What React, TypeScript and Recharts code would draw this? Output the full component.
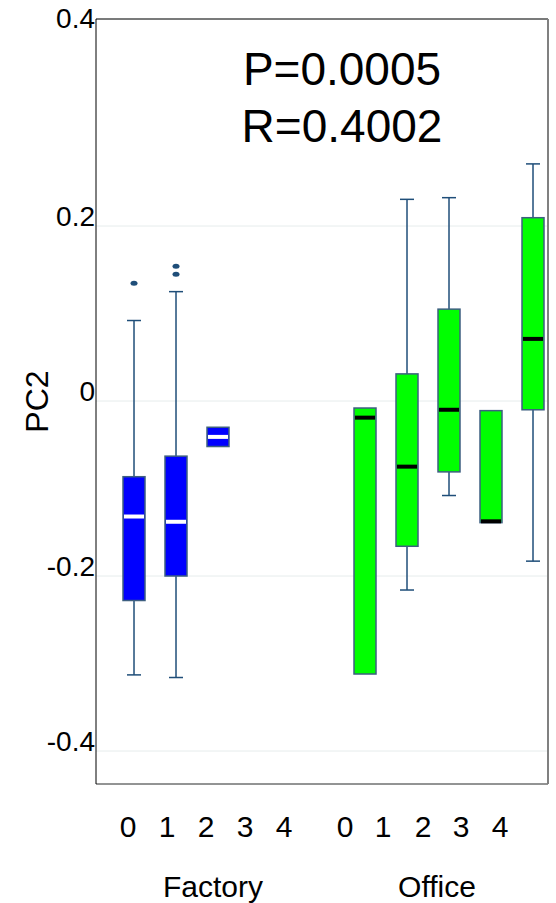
import React from 'react'
import { ComposedChart, Bar, Scatter, XAxis, YAxis, CartesianGrid } from 'recharts'

// categories
const groupNames = ['Factory', 'Factory', 'Factory', 'Factory', 'Factory', 'Office', 'Office', 'Office', 'Office', 'Office']
const levels = ['0', '1', '2', '3', '4', '0', '1', '2', '3', '4']
const slots = [0, 1, 2, 3, 4, 5.5, 6.5, 7.5, 8.5, 9.5]

// box statistics (PC2)
const whiskerLow = [-0.313, -0.316, null, null, null, null, -0.216, -0.108, null, -0.183]
const q1 = [-0.228, -0.2, -0.052, null, null, -0.312, -0.166, -0.081, -0.139, -0.01]
const median = [-0.132, -0.138, -0.041, null, null, -0.019, -0.075, -0.01, -0.1375, 0.071]
const q3 = [-0.0865, -0.063, -0.03, null, null, -0.008, 0.031, 0.105, -0.011, 0.2095]
const whiskerHigh = [0.092, 0.125, null, null, null, null, 0.2305, 0.2324, null, 0.271]

// outliers
const outlierSlots = [0, 1, 1]
const outlierValues = [0.1345, 0.154, 0.145]

// axes
const yDomain = [-0.4377, 0.4366]
const yTickValues = [0.4366, 0.2, 0, -0.2, -0.4]
const yTickLabels = ['0.4', '0.2', '0', '-0.2', '-0.4']
const xDomain = [-0.905, 9.857]
const xTickValues = [-0.143, 0.786, 1.714, 2.643, 3.571, 5.024, 5.929, 6.881, 7.786, 8.714]
const groupTickValues = [1.881, 7.214]
const groupTickLabels = ['Factory', 'Office']

const statLines = ['P=0.0005', 'R=0.4002']

const FONT = '"Liberation Sans", Arial, sans-serif'

const groupStyle: Record<string, { fill: string; median: string }> = {
  Factory: { fill: '#0000ff', median: '#ffffff' },
  Office: { fill: '#00ff00', median: '#000000' },
}

const rows = slots.map((slot, i) => {
  const lo = whiskerLow[i] ?? q1[i]
  const hi = whiskerHigh[i] ?? q3[i]
  return {
    slot,
    group: groupNames[i],
    q1: q1[i],
    median: median[i],
    q3: q3[i],
    wLow: whiskerLow[i],
    wHigh: whiskerHigh[i],
    lo,
    hi,
    range: lo == null || hi == null ? null : [lo, hi],
  }
})

const outliers = outlierSlots.map((slot, i) => ({ slot, value: outlierValues[i] }))

function BoxShape(props: any) {
  const { x, y, width, height, payload } = props
  if (!payload || payload.q1 == null || payload.range == null) return <g />
  const top = Math.min(y, y + height)
  const h = Math.abs(height)
  const toPx = (v: number) => top + (h * (payload.hi - v)) / (payload.hi - payload.lo)
  const cx = x + width / 2
  const style = groupStyle[payload.group]
  const boxTop = toPx(payload.q3)
  const boxBottom = toPx(payload.q1)
  const whisker = '#1f4e79'
  return (
    <g>
      {payload.wHigh != null && (
        <g stroke={whisker} strokeWidth={1.5}>
          <line x1={cx} x2={cx} y1={toPx(payload.wHigh)} y2={boxTop} />
          <line x1={cx - 7} x2={cx + 7} y1={toPx(payload.wHigh)} y2={toPx(payload.wHigh)} />
        </g>
      )}
      {payload.wLow != null && (
        <g stroke={whisker} strokeWidth={1.5}>
          <line x1={cx} x2={cx} y1={boxBottom} y2={toPx(payload.wLow)} />
          <line x1={cx - 7} x2={cx + 7} y1={toPx(payload.wLow)} y2={toPx(payload.wLow)} />
        </g>
      )}
      <rect
        x={x}
        y={boxTop}
        width={width}
        height={boxBottom - boxTop}
        fill={style.fill}
        stroke="#3d5f80"
        strokeWidth={1.5}
      />
      <line
        x1={x + 1}
        x2={x + width - 1}
        y1={toPx(payload.median)}
        y2={toPx(payload.median)}
        stroke={style.median}
        strokeWidth={4}
      />
    </g>
  )
}

function OutlierDot(props: any) {
  const { cx, cy } = props
  return <ellipse cx={cx} cy={cy} rx={3.5} ry={2.5} fill="#1f4e79" />
}

function YTick(props: any) {
  const { x, y, payload } = props
  const i = yTickValues.indexOf(payload.value)
  return (
    <text x={x} y={y + (i === 0 ? 9 : 0)} textAnchor="end" fontSize={28} fontFamily={FONT} fill="#000">
      {yTickLabels[i]}
    </text>
  )
}

export default function App() {
  return (
    <div style={{ position: 'absolute', left: 0, top: 0, width: 556, height: 903, background: '#fff' }}>
      <ComposedChart
        width={556}
        height={903}
        data={rows}
        margin={{ top: 18, right: 7, bottom: 0, left: 0 }}
      >
        <CartesianGrid xAxisId="a_lvl" yAxisId="v" vertical={false} stroke="#e6ecec" />
        <XAxis
          xAxisId="a_lvl"
          dataKey="slot"
          type="number"
          domain={xDomain}
          allowDataOverflow
          ticks={xTickValues}
          interval={0}
          tickFormatter={(_v: number, i: number) => levels[i]}
          height={70}
          tickSize={0}
          tickMargin={32}
          tickLine={false}
          axisLine={{ stroke: '#333' }}
          tick={{ fontSize: 30, fontFamily: FONT, fill: '#000' }}
        />
        <XAxis
          xAxisId="b_grp"
          dataKey="slot"
          type="number"
          domain={xDomain}
          allowDataOverflow
          ticks={groupTickValues}
          interval={0}
          tickFormatter={(_v: number, i: number) => groupTickLabels[i]}
          height={49}
          tickSize={0}
          tickMargin={22}
          tickLine={false}
          axisLine={false}
          tick={{ fontSize: 30, fontFamily: FONT, fill: '#000' }}
        />
        <XAxis
          xAxisId="top"
          orientation="top"
          dataKey="slot"
          type="number"
          domain={xDomain}
          allowDataOverflow
          height={1}
          tick={false}
          tickLine={false}
          axisLine={{ stroke: '#000' }}
        />
        <YAxis
          yAxisId="v"
          type="number"
          domain={yDomain}
          allowDataOverflow
          ticks={yTickValues}
          interval={0}
          width={96}
          tickSize={0}
          tickMargin={1}
          tickLine={false}
          axisLine={{ stroke: '#000' }}
          tick={<YTick />}
          label={{
            value: 'PC2',
            angle: -90,
            position: 'insideLeft',
            offset: 37,
            style: { textAnchor: 'middle', fontSize: 32, fontFamily: FONT, fill: '#000' },
          }}
        />
        <YAxis
          yAxisId="r"
          orientation="right"
          type="number"
          domain={yDomain}
          allowDataOverflow
          width={1}
          tick={false}
          tickLine={false}
          axisLine={{ stroke: '#808080', strokeWidth: 2 }}
        />
        <Bar
          xAxisId="a_lvl"
          yAxisId="v"
          dataKey="range"
          barSize={22}
          shape={<BoxShape />}
          isAnimationActive={false}
        />
        <Scatter
          xAxisId="a_lvl"
          yAxisId="v"
          data={outliers}
          dataKey="value"
          shape={<OutlierDot />}
          isAnimationActive={false}
        />
      </ComposedChart>
      <div
        style={{
          position: 'absolute',
          left: 192,
          top: 41,
          width: 300,
          textAlign: 'center',
          fontFamily: FONT,
          fontSize: 46,
          lineHeight: '57px',
          color: '#000',
        }}
      >
        {statLines.map((s) => (
          <div key={s}>{s}</div>
        ))}
      </div>
    </div>
  )
}
